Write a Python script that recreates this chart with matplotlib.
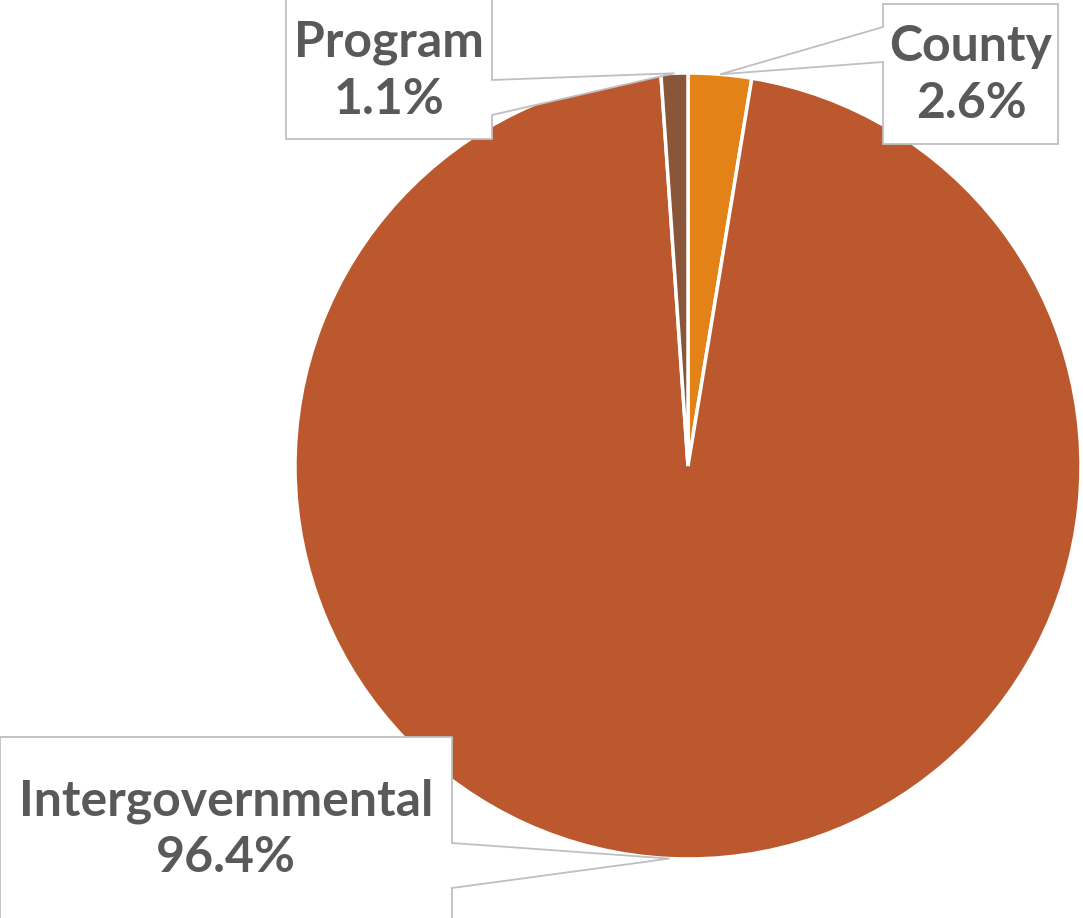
import numpy as np
import matplotlib
matplotlib.use("Agg")
import matplotlib.pyplot as plt
from matplotlib.patches import Polygon

# ---- data ----
categories = ["County", "Intergovernmental", "Program"]
shares = [2.6, 96.4, 1.1]
colors = ["#E38217", "#BC582D", "#8A563A"]

W, H = 1083, 918
fig = plt.figure(figsize=(W / 100, H / 100), dpi=100)
ax = fig.add_axes([0, 0, 1, 1])
ax.set_xlim(0, W)
ax.set_ylim(0, H)
ax.set_aspect("equal")
ax.axis("off")

def Y(y_img):
    return H - y_img

center = (688, Y(466))
radius = 393
wedges, _ = ax.pie(shares, colors=colors, startangle=90, counterclock=False,
                   center=center, radius=radius, normalize=True,
                   wedgeprops=dict(edgecolor="white", linewidth=2.5))
ax.set_xlim(0, W)
ax.set_ylim(0, H)

# callout layout (image pixel coords): box x0,x1,y0,y1, pointer side and attach ys
layout = {
    "Program": dict(box=(286, 492, -2, 139), side="right", att=(80, 115), text=(389, 71)),
    "County": dict(box=(883, 1058, 4, 144), side="left", att=(27, 62), text=(971, 75)),
    "Intergovernmental": dict(box=(0, 452, 737, 940), side="right", att=(843, 888), text=(226, 829)),
}

for w, cat, v in zip(wedges, categories, shares):
    mid = np.deg2rad((w.theta1 + w.theta2) / 2)
    tx = w.center[0] + w.r * np.cos(mid)
    ty = w.center[1] + w.r * np.sin(mid)
    L = layout[cat]
    x0, x1, y0, y1 = L["box"]
    a0, a1 = L["att"]
    if L["side"] == "right":
        pts = [(x0, Y(y0)), (x1, Y(y0)), (x1, Y(a0)), (tx, ty), (x1, Y(a1)),
               (x1, Y(y1)), (x0, Y(y1))]
    else:
        pts = [(x0, Y(y0)), (x1, Y(y0)), (x1, Y(y1)), (x0, Y(y1)), (x0, Y(a1)),
               (tx, ty), (x0, Y(a0))]
    ax.add_patch(Polygon(pts, closed=True, facecolor="white", edgecolor="#BFBFBF",
                         linewidth=1.3, zorder=5, clip_on=False))
    ax.text(L["text"][0], Y(L["text"][1]), f"{cat}\n{v:.1f}%", ha="center", va="center",
            fontsize=36, fontweight="bold", family=["Lato", "DejaVu Sans"],
            color="#595959", linespacing=1.3, zorder=6)

fig.savefig("out.png", dpi=100)
